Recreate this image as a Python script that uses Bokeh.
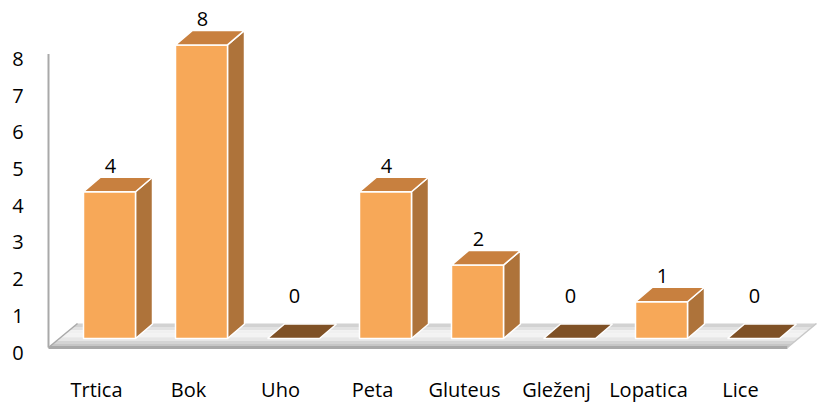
import numpy as np
from bokeh.plotting import figure
from bokeh.models import Range1d
from bokeh.core.properties import value
from bokeh.embed import file_html
from bokeh.resources import INLINE

# ---- data ----
categories = ["Trtica", "Bok", "Uho", "Peta", "Gluteus", "Gleženj", "Lopatica", "Lice"]
counts = [4, 8, 0, 4, 2, 0, 1, 0]
y_ticks = [0, 1, 2, 3, 4, 5, 6, 7, 8]

# ---- geometry ----
W, H = 818, 403
PX_X = 92.0      # pixels per category step
PX_Y = 36.7      # pixels per value unit
X0_PX = 109.0    # canvas px of first category centre
Y0_PX = 338.0    # canvas px of value 0 (front face bottom)

x_start = -X0_PX / PX_X
x_end = (W - X0_PX) / PX_X
y_end = Y0_PX / PX_Y
y_start = (Y0_PX - H) / PX_Y

HALF = 26 / PX_X          # half bar width
DX = 17 / PX_X            # depth x offset
DY = 14.5 / PX_Y          # depth y offset
TXT_ADJ = 8 / PX_Y        # baseline correction for svg text

FRONT_COL = "#F7A858"
SIDE_COL = "#AE733A"
TOP_COL = "#C8803F"
ZERO_COL = "#7F5126"

p = figure(width=W, height=H, x_range=Range1d(x_start, x_end), y_range=Range1d(y_start, y_end),
           output_backend="svg", toolbar_location=None, min_border=0,
           outline_line_color=None, background_fill_color="white", border_fill_color="white")
p.axis.visible = False
p.xgrid.visible = False
p.ygrid.visible = False

# ---- floor ----
floor_front = -9 / PX_Y
floor_back = 15 / PX_Y
floor_left = -61 / PX_X
floor_right = (787 - 109) / PX_X
fdx = 29 / PX_X
band_cols = ["#d2d2d2", "#e2e2e2", "#f0f0f0", "#f3f3f3", "#e6e6e6", "#d4d4d4", "#c6c6c6"]
n = len(band_cols)
bxs, bys = [], []
for k in range(n):
    yt = floor_back - k * (floor_back - floor_front) / n
    yb = floor_back - (k + 1) * (floor_back - floor_front) / n
    st = (yt - floor_front) / (floor_back - floor_front) * fdx
    sb = (yb - floor_front) / (floor_back - floor_front) * fdx
    bxs.append([floor_left + sb, floor_left + st, floor_right + st, floor_right + sb])
    bys.append([yb, yt, yt, yb])
p.patches(bxs, bys, fill_color=band_cols, line_color=None)
# front edge and side diagonals
p.line([floor_left, floor_right], [floor_front, floor_front], line_color="#a9a9a9", line_width=3)
p.line([floor_left, floor_left + fdx], [floor_front, floor_back], line_color="#a9a9a9", line_width=1.5)
p.line([floor_right, floor_right + fdx], [floor_front, floor_back], line_color="#c8c8c8", line_width=1.5)
# vertical wall line
p.line([floor_left, floor_left], [floor_front, floor_front + max(y_ticks)], line_color="#a9a9a9", line_width=2)

# ---- bars ----
xc = np.arange(len(categories), dtype=float)
vals = np.array(counts, dtype=float)

front_xs, front_ys, side_xs, side_ys, top_xs, top_ys, top_cols = [], [], [], [], [], [], []
for x, v in zip(xc, vals):
    l, r = x - HALF, x + HALF
    if v > 0:
        front_xs.append([l, r, r, l])
        front_ys.append([0, 0, v, v])
        side_xs.append([r, r + DX, r + DX, r])
        side_ys.append([0, DY, v + DY, v])
        top_cols.append(TOP_COL)
    else:
        top_cols.append(ZERO_COL)
    top_xs.append([l, l + DX, r + DX, r])
    top_ys.append([v, v + DY, v + DY, v])

p.patches(side_xs, side_ys, fill_color=SIDE_COL, line_color="white", line_width=1.5)
p.patches(front_xs, front_ys, fill_color=FRONT_COL, line_color="white", line_width=1.5)
p.patches(top_xs, top_ys, fill_color=top_cols, line_color="white", line_width=1.5)

FONT = value("Open Sans")
FS = "20px"
# value labels
lab_y = np.where(vals > 0, vals + 18 / PX_Y, vals + 35 / PX_Y) + TXT_ADJ
p.text(x=xc + 1 / PX_X, y=lab_y, text=[str(c) for c in counts], text_font=FONT,
       text_font_size=FS, text_align="center", text_baseline="alphabetic", text_color="#000000")

# y tick labels
yt = np.array(y_ticks, dtype=float)
p.text(x=[(17.5 - 109) / PX_X] * len(y_ticks), y=yt - 22 / PX_Y + TXT_ADJ,
       text=[str(t) for t in y_ticks],
       text_font=FONT, text_font_size=FS, text_align="center", text_baseline="alphabetic",
       text_color="#000000")

# category labels
p.text(x=xc - 13 / PX_X, y=[(Y0_PX - 397) / PX_Y + TXT_ADJ] * len(categories), text=categories,
       text_font=FONT, text_font_size=FS, text_align="center", text_baseline="alphabetic",
       text_color="#000000")

open("out.html", "w").write(file_html(p, INLINE))
